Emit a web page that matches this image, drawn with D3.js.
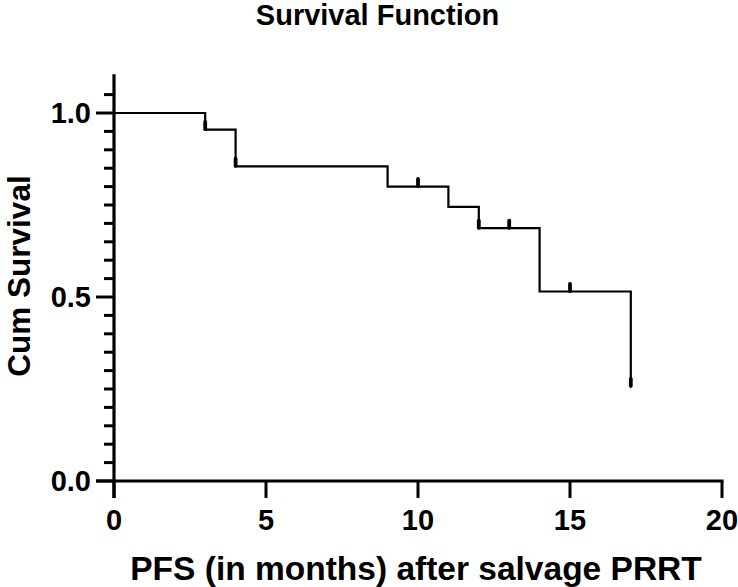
<!DOCTYPE html>
<html><head><meta charset="utf-8">
<script src="https://cdn.jsdelivr.net/npm/d3@7"></script>
<style>html,body{margin:0;padding:0;background:#fff;}svg{display:block;}text{font-family:"Liberation Sans",Arial,sans-serif;font-weight:bold;fill:#000;}</style>
</head><body><div id="chart"></div>
<script>
const eventTimes = [0, 3, 4, 9, 11, 12, 14, 17];
const survival   = [1.0, 0.955, 0.855, 0.800, 0.745, 0.687, 0.515, 0.257];
const censorTimes = [3, 4, 10, 12, 13, 15, 17];
const xTicks = [0, 5, 10, 15, 20];
const yMajorTicks = [0, 0.5, 1.0];
const yMinorTicks = d3.range(0, 22).map(i => +(i * 0.05).toFixed(2)).filter(v => !yMajorTicks.includes(v) && v <= 1.1);

const W = 738, H = 587;
const svg = d3.select("#chart").append("svg").attr("width", W).attr("height", H);
const x = d3.scaleLinear().domain([0, 20]).range([114, 722]);
const y = d3.scaleLinear().domain([0, 1.1]).range([481, 76.2]);

// title
svg.append("text").attr("x", 377.5).attr("y", 25).attr("text-anchor", "middle")
  .style("font-size", "29px").text("Survival Function");

// y axis
const yAxis = svg.append("g");
yAxis.append("line").attr("x1", x(0)).attr("x2", x(0)).attr("y1", y(1.1) - 2).attr("y2", y(0) + 17)
  .attr("stroke", "#000").attr("stroke-width", 3.2);
yAxis.selectAll(".minor").data(yMinorTicks).join("line")
  .attr("x1", x(0) - 10).attr("x2", x(0)).attr("y1", d => y(d)).attr("y2", d => y(d))
  .attr("stroke", "#000").attr("stroke-width", 3);
yAxis.selectAll(".major").data(yMajorTicks).join("line")
  .attr("x1", x(0) - 18).attr("x2", x(0)).attr("y1", d => y(d)).attr("y2", d => y(d))
  .attr("stroke", "#000").attr("stroke-width", 3);
yAxis.selectAll("text").data(yMajorTicks).join("text")
  .attr("x", 91).attr("y", d => y(d)).attr("dy", "0.36em").attr("text-anchor", "end")
  .style("font-size", "29px").text(d => d.toFixed(1));

// x axis
const xAxis = svg.append("g");
xAxis.append("line").attr("x1", x(0) - 18).attr("x2", x(20) + 1.5).attr("y1", y(0)).attr("y2", y(0))
  .attr("stroke", "#000").attr("stroke-width", 3.2);
xAxis.selectAll(".tick").data(xTicks).join("line")
  .attr("x1", d => x(d)).attr("x2", d => x(d)).attr("y1", y(0)).attr("y2", y(0) + 17)
  .attr("stroke", "#000").attr("stroke-width", 3);
xAxis.selectAll("text").data(xTicks).join("text")
  .attr("x", d => x(d)).attr("y", 530).attr("text-anchor", "middle")
  .style("font-size", "29px").text(d => d);

// axis titles
svg.append("text").attr("x", 416).attr("y", 580).attr("text-anchor", "middle")
  .style("font-size", "33.5px").text("PFS (in months) after salvage PRRT");
svg.append("text").attr("transform", "translate(30,276) rotate(-90)").attr("text-anchor", "middle")
  .style("font-size", "31.5px").text("Cum Survival");

// survival step curve
const pts = eventTimes.map((t, i) => [t, survival[i]]);
const line = d3.line().x(d => x(d[0])).y(d => y(d[1])).curve(d3.curveStepAfter);
svg.append("path").attr("d", line(pts)).attr("fill", "none").attr("stroke", "#000").attr("stroke-width", 2.2);

// censor marks
function survAt(t) {
  let s = 1;
  eventTimes.forEach((et, i) => { if (et <= t) s = survival[i]; });
  return s;
}
svg.selectAll(".censor").data(censorTimes).join("rect")
  .attr("x", d => x(d) - 1.9).attr("y", d => y(survAt(d)) - 9.5)
  .attr("width", 3.8).attr("height", 11).attr("rx", 1.8).attr("fill", "#000");
</script></body></html>
